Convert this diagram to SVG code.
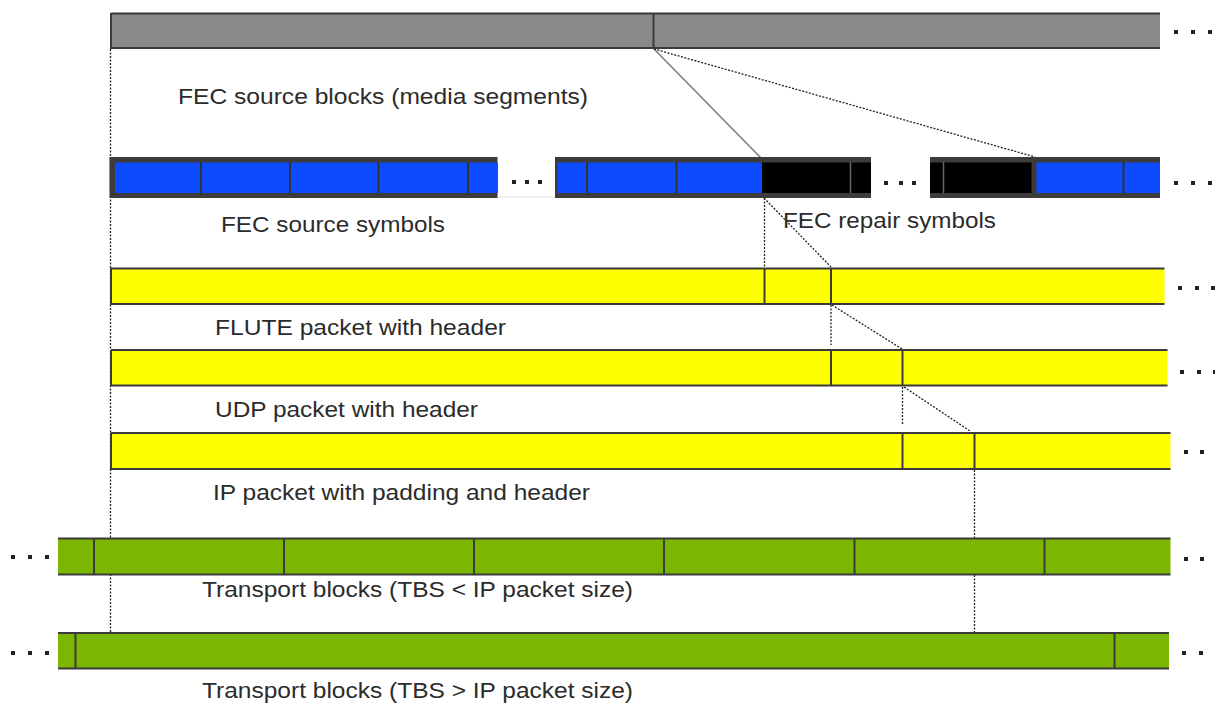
<svg xmlns="http://www.w3.org/2000/svg" width="1215" height="704" viewBox="0 0 1215 704">
<style>
.lbl{font-family:"Liberation Sans",Arial,sans-serif;font-size:22px;fill:#2b2b2b}
.edge{stroke:#3a3a3a;stroke-width:2;fill:none}
.div{stroke:#3a3a3a;stroke-width:2}
.bdiv{stroke:#333;stroke-width:2}
.kdiv{stroke:#666;stroke-width:1.5}
.dot{fill:#222}
.dotted{stroke:#222;stroke-width:1.3;stroke-dasharray:2 1.5;fill:none}
.solid{stroke:#7a7a7a;stroke-width:1.5;fill:none}
.yel{fill:#ffff00}
.grn{fill:#7bb600}
.blue{fill:#0d4bff}
.frame{fill:#3c3c3c}
</style>
<rect width="1215" height="704" fill="#fff"/>

<g id="connectors">
<line class="dotted" x1="110.5" y1="49" x2="110.5" y2="633"/>
<line class="solid" x1="654" y1="49" x2="761" y2="158"/>
<line class="dotted" x1="654" y1="49" x2="1035" y2="157"/>
<line class="dotted" x1="764.5" y1="198" x2="764.5" y2="268"/>
<line class="dotted" x1="764" y1="198" x2="831" y2="267"/>
<line class="dotted" x1="831" y1="305" x2="831" y2="345"/>
<line class="dotted" x1="832" y1="305" x2="902" y2="349"/>
<line class="dotted" x1="902.5" y1="387" x2="902.5" y2="425"/>
<line class="dotted" x1="904" y1="387" x2="970" y2="431"/>
<line class="dotted" x1="974.5" y1="470" x2="974.5" y2="633"/>
</g>

<g id="source-blocks">
<rect x="111" y="13" width="1049" height="35" fill="#898989"/>
<line class="edge" x1="111" y1="13.5" x2="1160" y2="13.5" stroke-width="1.5"/>
<line class="edge" x1="111" y1="48" x2="1160" y2="48"/>
<line class="edge" x1="111" y1="13" x2="111" y2="49"/>
<line class="div" x1="653.5" y1="13" x2="653.5" y2="48"/>
<rect class="dot" x="1174" y="30" width="4" height="4"/>
<rect class="dot" x="1191" y="30" width="4" height="4"/>
<rect class="dot" x="1208" y="30" width="4" height="4"/>
<text class="lbl" x="178" y="104" textLength="410" lengthAdjust="spacingAndGlyphs">FEC source blocks (media segments)</text>
</g>

<g id="symbols">
<line x1="497" y1="197" x2="555" y2="197" stroke="#e2e2e2" stroke-width="1"/>
<rect class="frame" x="109.5" y="157" width="388" height="41"/>
<rect class="blue" x="115" y="162.5" width="383" height="30.5"/>
<line class="bdiv" x1="201" y1="162" x2="201" y2="193"/>
<line class="bdiv" x1="290" y1="162" x2="290" y2="193"/>
<line class="bdiv" x1="378.5" y1="162" x2="378.5" y2="193"/>
<line class="bdiv" x1="468" y1="162" x2="468" y2="193"/>
<rect class="dot" x="512" y="180" width="4" height="4"/>
<rect class="dot" x="525" y="180" width="4" height="4"/>
<rect class="dot" x="538" y="180" width="4" height="4"/>

<rect class="frame" x="555" y="157" width="316" height="41"/>
<rect class="blue" x="557.5" y="162.5" width="204.5" height="30.5"/>
<rect x="762" y="162.5" width="109" height="30.5" fill="#000"/>
<line class="bdiv" x1="587" y1="162" x2="587" y2="193"/>
<line class="bdiv" x1="676.5" y1="162" x2="676.5" y2="193"/>
<line class="kdiv" x1="850.5" y1="162" x2="850.5" y2="193"/>
<rect class="dot" x="884" y="181" width="4" height="4"/>
<rect class="dot" x="899" y="181" width="4" height="4"/>
<rect class="dot" x="912" y="181" width="4" height="4"/>

<rect class="frame" x="930" y="157" width="230" height="41"/>
<rect x="930" y="162.5" width="101.5" height="30.5" fill="#000"/>
<rect class="blue" x="1036.5" y="162.5" width="123.5" height="30.5"/>
<line class="kdiv" x1="943.5" y1="162" x2="943.5" y2="193"/>
<line class="bdiv" x1="1123.5" y1="162" x2="1123.5" y2="193"/>
<rect class="dot" x="1174" y="181" width="4" height="4"/>
<rect class="dot" x="1191" y="181" width="4" height="4"/>
<rect class="dot" x="1208" y="181" width="4" height="4"/>
<text class="lbl" x="221" y="232" textLength="224" lengthAdjust="spacingAndGlyphs">FEC source symbols</text>
<text class="lbl" x="783" y="228" textLength="213" lengthAdjust="spacingAndGlyphs">FEC repair symbols</text>
</g>

<g id="flute">
<rect class="yel" x="111" y="268.5" width="1053.5" height="35.5"/>
<line class="edge" x1="111" y1="268.5" x2="1164.5" y2="268.5"/>
<line class="edge" x1="111" y1="304" x2="1164.5" y2="304"/>
<line class="edge" x1="111" y1="268" x2="111" y2="305" stroke-width="1"/>
<line class="div" x1="764.5" y1="268" x2="764.5" y2="304"/>
<line class="div" x1="831" y1="268" x2="831" y2="304"/>
<rect class="dot" x="1178" y="286" width="4" height="4"/>
<rect class="dot" x="1195" y="286" width="4" height="4"/>
<rect class="dot" x="1211" y="286" width="4" height="4"/>
<text class="lbl" x="215" y="335" textLength="291" lengthAdjust="spacingAndGlyphs">FLUTE packet with header</text>
</g>

<g id="udp">
<rect class="yel" x="111" y="350" width="1056.5" height="36"/>
<line class="edge" x1="111" y1="350" x2="1167.5" y2="350"/>
<line class="edge" x1="111" y1="385.5" x2="1167.5" y2="385.5"/>
<line class="edge" x1="111" y1="350" x2="111" y2="386" stroke-width="1"/>
<line class="div" x1="831" y1="350" x2="831" y2="386"/>
<line class="div" x1="902.5" y1="350" x2="902.5" y2="386"/>
<rect class="dot" x="1180" y="370" width="4" height="4"/>
<rect class="dot" x="1197" y="370" width="4" height="4"/>
<rect class="dot" x="1213" y="370" width="4" height="4"/>
<text class="lbl" x="215" y="417" textLength="263" lengthAdjust="spacingAndGlyphs">UDP packet with header</text>
</g>

<g id="ip">
<rect class="yel" x="111" y="433" width="1059.5" height="36"/>
<line class="edge" x1="111" y1="433" x2="1170.5" y2="433"/>
<line class="edge" x1="111" y1="469" x2="1170.5" y2="469"/>
<line class="edge" x1="111" y1="433" x2="111" y2="469" stroke-width="1"/>
<line class="div" x1="902.5" y1="433" x2="902.5" y2="469"/>
<line class="div" x1="974.5" y1="433" x2="974.5" y2="469"/>
<rect class="dot" x="1184" y="450" width="4" height="4"/>
<rect class="dot" x="1200" y="450" width="4" height="4"/>
<text class="lbl" x="213" y="500" textLength="377" lengthAdjust="spacingAndGlyphs">IP packet with padding and header</text>
</g>

<g id="tb-small">
<rect class="grn" x="58" y="538.5" width="1112.5" height="36"/>
<line class="edge" x1="58" y1="538.5" x2="1170.5" y2="538.5"/>
<line class="edge" x1="58" y1="574.5" x2="1170.5" y2="574.5"/>
<line class="div" x1="94" y1="538" x2="94" y2="575"/>
<line class="div" x1="284" y1="538" x2="284" y2="575"/>
<line class="div" x1="474" y1="538" x2="474" y2="575"/>
<line class="div" x1="664" y1="538" x2="664" y2="575"/>
<line class="div" x1="854.5" y1="538" x2="854.5" y2="575"/>
<line class="div" x1="1044.5" y1="538" x2="1044.5" y2="575"/>
<rect class="dot" x="11" y="555" width="4" height="4"/>
<rect class="dot" x="28" y="555" width="4" height="4"/>
<rect class="dot" x="45" y="555" width="4" height="4"/>
<rect class="dot" x="1184" y="557" width="4" height="4"/>
<rect class="dot" x="1200" y="557" width="4" height="4"/>
<text class="lbl" x="202" y="597" textLength="431" lengthAdjust="spacingAndGlyphs">Transport blocks (TBS &lt; IP packet size)</text>
</g>

<g id="tb-large">
<rect class="grn" x="58" y="633" width="1111" height="36"/>
<line class="edge" x1="58" y1="633" x2="1169" y2="633"/>
<line class="edge" x1="58" y1="668.5" x2="1169" y2="668.5"/>
<line class="div" x1="75.5" y1="633" x2="75.5" y2="669"/>
<line class="div" x1="1114.5" y1="633" x2="1114.5" y2="669"/>
<rect class="dot" x="11" y="651" width="4" height="4"/>
<rect class="dot" x="28" y="651" width="4" height="4"/>
<rect class="dot" x="45" y="651" width="4" height="4"/>
<rect class="dot" x="1182" y="651" width="4" height="4"/>
<rect class="dot" x="1199" y="651" width="4" height="4"/>
<text class="lbl" x="202" y="698" textLength="431" lengthAdjust="spacingAndGlyphs">Transport blocks (TBS &gt; IP packet size)</text>
</g>
</svg>
